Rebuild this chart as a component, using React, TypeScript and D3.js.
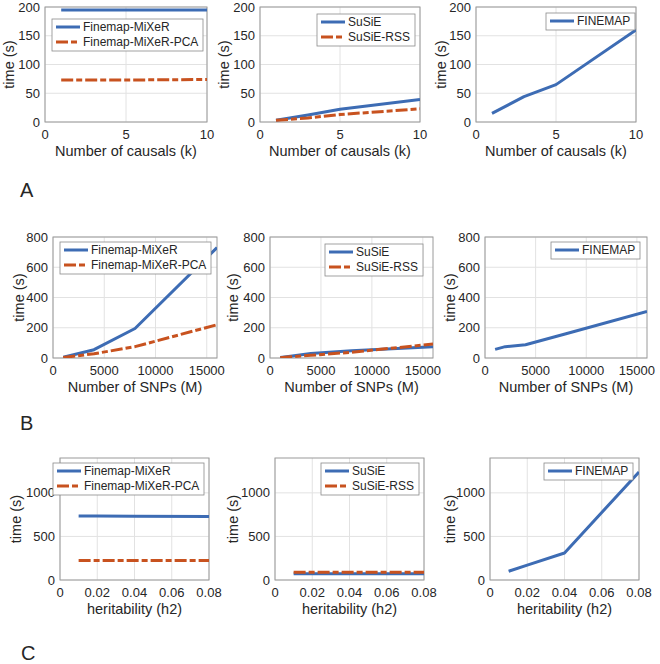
import React from 'react';
import * as d3 from 'd3';

// ---------- data ----------
const causals = [1, 3, 5, 10];
const snps = [1000, 2000, 4000, 8000, 16000];
const h2 = [0.01, 0.02, 0.04, 0.08];

const mixerA = [195, 195, 195, 195];
const mixerPcaA = [73, 73, 73, 74];
const susieA = [3, 12, 22, 39];
const susieRssA = [3, 7, 13, 23];
const finemapA = [15, 44, 65, 160];

const mixerB = [5, 22, 55, 195, 730];
const mixerPcaB = [3, 12, 28, 75, 220];
const susieB = [3, 12, 30, 48, 75];
const susieRssB = [2, 8, 18, 38, 92];
const finemapB = [57, 75, 88, 160, 307];

const mixerC = [735, 733, 732, 730];
const mixerPcaC = [225, 225, 225, 225];
const susieC = [72, 72, 72, 72];
const susieRssC = [90, 90, 90, 90];
const finemapC = [100, 170, 310, 1240];

const causalTicks = [0, 5, 10];
const snpTicks = [0, 5000, 10000, 15000];
const h2Ticks = [0, 0.02, 0.04, 0.06, 0.08];
const timeTicksA = [0, 50, 100, 150, 200];
const timeTicksB = [0, 200, 400, 600, 800];
const timeTicksC = [0, 500, 1000];

const rowLetters = ['A', 'B', 'C'];

// ---------- style ----------
const BLUE = '#3d6cb4';
const ORANGE = '#c8521f';
const FONT = '"Liberation Sans", Arial, Helvetica, sans-serif';
const TXT = '#262626';

type Series = { name: string; xs: number[]; ys: number[]; dashed: boolean };
type PanelCfg = {
  left: number; right: number; top: number; bottom: number;
  xDomain: [number, number]; yDomain: [number, number];
  xTicks: number[]; yTicks: number[];
  xFmt: (v: number) => string;
  xLabel: string; yLabelX: number;
  series: Series[];
  legend: { x0?: number; x1?: number; y0: number };
};

let ctx: CanvasRenderingContext2D | null = null;
function textWidth(s: string, size: number) {
  if (!ctx) ctx = document.createElement('canvas').getContext('2d');
  if (!ctx) return s.length * size * 0.55;
  ctx.font = `${size}px ${FONT}`;
  return ctx.measureText(s).width;
}

const fmtInt = (v: number) => String(v);
const fmtH2 = (v: number) => (v === 0 ? '0' : String(v));

const mk = (name: string, xs: number[], ys: number[], dashed: boolean): Series => ({ name, xs, ys, dashed });

const panels: PanelCfg[] = [
  {
    left: 45, right: 207, top: 7, bottom: 122, xDomain: [0, 10], yDomain: [0, 200],
    xTicks: causalTicks, yTicks: timeTicksA, xFmt: fmtInt, xLabel: 'Number of causals (k)', yLabelX: 14,
    series: [mk('Finemap-MiXeR', causals, mixerA, false), mk('Finemap-MiXeR-PCA', causals, mixerPcaA, true)],
    legend: { x0: 52, y0: 19 },
  },
  {
    left: 260, right: 420, top: 7, bottom: 122, xDomain: [0, 10], yDomain: [0, 200],
    xTicks: causalTicks, yTicks: timeTicksA, xFmt: fmtInt, xLabel: 'Number of causals (k)', yLabelX: 229,
    series: [mk('SuSiE', causals, susieA, false), mk('SuSiE-RSS', causals, susieRssA, true)],
    legend: { x1: 415, y0: 14 },
  },
  {
    left: 476, right: 636, top: 7, bottom: 122, xDomain: [0, 10], yDomain: [0, 200],
    xTicks: causalTicks, yTicks: timeTicksA, xFmt: fmtInt, xLabel: 'Number of causals (k)', yLabelX: 446,
    series: [mk('FINEMAP', causals, finemapA, false)],
    legend: { x1: 635, y0: 13 },
  },
  {
    left: 53, right: 217, top: 237, bottom: 358, xDomain: [0, 16000], yDomain: [0, 800],
    xTicks: snpTicks, yTicks: timeTicksB, xFmt: fmtInt, xLabel: 'Number of SNPs (M)', yLabelX: 24,
    series: [mk('Finemap-MiXeR', snps, mixerB, false), mk('Finemap-MiXeR-PCA', snps, mixerPcaB, true)],
    legend: { x0: 60, y0: 242 },
  },
  {
    left: 270, right: 433, top: 237, bottom: 358, xDomain: [0, 16000], yDomain: [0, 800],
    xTicks: snpTicks, yTicks: timeTicksB, xFmt: fmtInt, xLabel: 'Number of SNPs (M)', yLabelX: 238,
    series: [mk('SuSiE', snps, susieB, false), mk('SuSiE-RSS', snps, susieRssB, true)],
    legend: { x1: 423, y0: 244 },
  },
  {
    left: 485, right: 647, top: 237, bottom: 358, xDomain: [0, 16000], yDomain: [0, 800],
    xTicks: snpTicks, yTicks: timeTicksB, xFmt: fmtInt, xLabel: 'Number of SNPs (M)', yLabelX: 455,
    series: [mk('FINEMAP', snps, finemapB, false)],
    legend: { x1: 640, y0: 242 },
  },
  {
    left: 60, right: 209, top: 458, bottom: 580, xDomain: [0, 0.08], yDomain: [0, 1400],
    xTicks: h2Ticks, yTicks: timeTicksC, xFmt: fmtH2, xLabel: 'heritability (h2)', yLabelX: 21,
    series: [mk('Finemap-MiXeR', h2, mixerC, false), mk('Finemap-MiXeR-PCA', h2, mixerPcaC, true)],
    legend: { x0: 53, y0: 463 },
  },
  {
    left: 275, right: 424, top: 458, bottom: 580, xDomain: [0, 0.08], yDomain: [0, 1400],
    xTicks: h2Ticks, yTicks: timeTicksC, xFmt: fmtH2, xLabel: 'heritability (h2)', yLabelX: 238,
    series: [mk('SuSiE', h2, susieC, false), mk('SuSiE-RSS', h2, susieRssC, true)],
    legend: { x1: 419, y0: 463 },
  },
  {
    left: 490, right: 639, top: 458, bottom: 580, xDomain: [0, 0.08], yDomain: [0, 1400],
    xTicks: h2Ticks, yTicks: timeTicksC, xFmt: fmtH2, xLabel: 'heritability (h2)', yLabelX: 455,
    series: [mk('FINEMAP', h2, finemapC, false)],
    legend: { x1: 633, y0: 463 },
  },
];

const letterPos = [
  { x: 20, y: 197 },
  { x: 20, y: 430 },
  { x: 21, y: 660 },
];

const DASH = '12,3,6,3';

function Panel({ cfg, idx }: { cfg: PanelCfg; idx: number }) {
  const x = d3.scaleLinear().domain(cfg.xDomain).range([cfg.left, cfg.right]);
  const y = d3.scaleLinear().domain(cfg.yDomain).range([cfg.bottom, cfg.top]);
  const line = d3
    .line<[number, number]>()
    .x((d) => x(d[0]))
    .y((d) => y(d[1]));
  const clipId = `clip${idx}`;

  const legFont = 12;
  const maxW = d3.max(cfg.series, (s) => textWidth(s.name, legFont)) || 0;
  const legW = Math.round(31 + maxW + 5);
  const legH = 15 * cfg.series.length + 2;
  const lx0 = cfg.legend.x0 !== undefined ? cfg.legend.x0 : (cfg.legend.x1 as number) - legW;
  const ly0 = cfg.legend.y0;

  return (
    <g>
      <defs>
        <clipPath id={clipId}>
          <rect x={cfg.left} y={cfg.top} width={cfg.right - cfg.left} height={cfg.bottom - cfg.top} />
        </clipPath>
      </defs>
      <rect x={cfg.left} y={cfg.top} width={cfg.right - cfg.left} height={cfg.bottom - cfg.top} fill="#fff" />
      {/* grid */}
      {cfg.xTicks.map((t) => (
        <line key={'gx' + t} x1={x(t)} x2={x(t)} y1={cfg.top} y2={cfg.bottom} stroke="#e2e2e2" strokeWidth={1} />
      ))}
      {cfg.yTicks.map((t) => (
        <line key={'gy' + t} x1={cfg.left} x2={cfg.right} y1={y(t)} y2={y(t)} stroke="#e2e2e2" strokeWidth={1} />
      ))}
      {/* box */}
      <rect x={cfg.left} y={cfg.top} width={cfg.right - cfg.left} height={cfg.bottom - cfg.top} fill="none" stroke="#9a9a9a" strokeWidth={1} />
      {/* tick labels */}
      {cfg.xTicks.map((t) => (
        <text key={'tx' + t} x={x(t)} y={cfg.bottom + 17} textAnchor="middle" fontSize={13} fontFamily={FONT} fill={TXT}>
          {cfg.xFmt(t)}
        </text>
      ))}
      {cfg.yTicks.map((t) => (
        <text key={'ty' + t} x={cfg.left - 5} y={y(t) + 4.5} textAnchor="end" fontSize={13} fontFamily={FONT} fill={TXT}>
          {t}
        </text>
      ))}
      {/* axis labels */}
      <text x={(cfg.left + cfg.right) / 2} y={cfg.bottom + 34} textAnchor="middle" fontSize={14.5} fontFamily={FONT} fill={TXT}>
        {cfg.xLabel}
      </text>
      <text
        transform={`translate(${cfg.yLabelX},${(cfg.top + cfg.bottom) / 2}) rotate(-90)`}
        textAnchor="middle"
        fontSize={14.5}
        fontFamily={FONT}
        fill={TXT}
      >
        time (s)
      </text>
      {/* series */}
      <g clipPath={`url(#${clipId})`}>
        {cfg.series.map((s) => (
          <path
            key={s.name}
            d={line(s.xs.map((v, i) => [v, s.ys[i]] as [number, number])) || ''}
            fill="none"
            stroke={s.dashed ? ORANGE : BLUE}
            strokeWidth={3}
            strokeDasharray={s.dashed ? DASH : undefined}
            strokeLinejoin="round"
          />
        ))}
      </g>
      {/* legend */}
      <rect x={lx0} y={ly0} width={legW} height={legH} fill="#fff" stroke="#8a8a8a" strokeWidth={0.8} />
      {cfg.series.map((s, i) => {
        const ry = ly0 + 8 + 15 * i;
        return (
          <g key={'lg' + s.name}>
            <line
              x1={lx0 + 4}
              x2={lx0 + 28}
              y1={ry}
              y2={ry}
              stroke={s.dashed ? ORANGE : BLUE}
              strokeWidth={3}
              strokeDasharray={s.dashed ? DASH : undefined}
            />
            <text x={lx0 + 31} y={ry + 4.2} fontSize={legFont} fontFamily={FONT} fill={TXT}>
              {s.name}
            </text>
          </g>
        );
      })}
    </g>
  );
}

export default function App() {
  return (
    <svg
      width={660}
      height={664}
      style={{ position: 'absolute', left: 0, top: 0, background: '#fff' }}
    >
      <rect x={0} y={0} width={660} height={664} fill="#fff" />
      {panels.map((p, i) => (
        <Panel key={i} cfg={p} idx={i} />
      ))}
      {rowLetters.map((l, i) => (
        <text key={l} x={letterPos[i].x} y={letterPos[i].y} fontSize={20} fontFamily={FONT} fill={TXT}>
          {l}
        </text>
      ))}
    </svg>
  );
}
